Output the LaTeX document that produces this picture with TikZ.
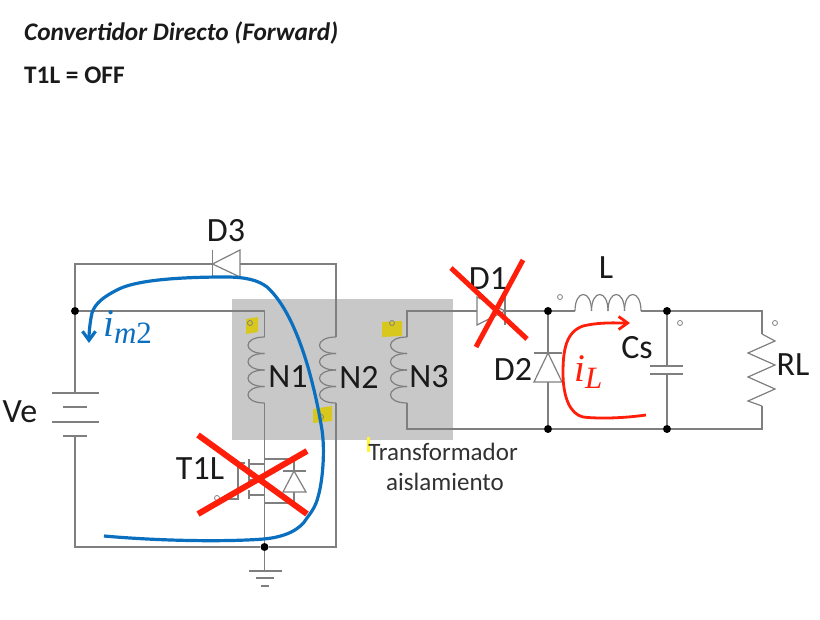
\documentclass[tikz,border=0pt]{standalone}
\usepackage{fontspec}
\setmainfont{Carlito}
\newfontfamily\currentfont{Liberation Serif}
\usepackage{xcolor}
\usetikzlibrary{arrows.meta}
\definecolor{wireink}{HTML}{7F7F7F}
\definecolor{coreshade}{HTML}{C8C8C8}
\definecolor{dotyellow}{HTML}{D8C81E}
\definecolor{labelink}{HTML}{1A1A1A}
\definecolor{crossred}{HTML}{FF1E0A}
\definecolor{loopblue}{HTML}{0B6FC0}
\tikzset{
  wire/.style={wireink, line width=1.2pt},
  junction/.style={circle, fill=black, inner sep=0pt, minimum size=8pt},
  polarity/.style={circle, draw=wireink, line width=0.8pt, inner sep=0pt, minimum size=5pt},
  partlabel/.style={labelink, inner sep=0pt, font=\fontsize{34}{38}\selectfont},
  notelabel/.style={labelink!90, inner sep=0pt, font=\fontsize{25}{29}\selectfont},
  crossout/.style={crossred, line width=6pt},
  yellowmark/.style={fill=dotyellow, draw=none},
  currentlabel/.style={inner sep=0pt, font=\currentfont\itshape\fontsize{39}{42}\selectfont},
}
\newcommand{\currentsub}[1]{\raisebox{-7pt}{\fontsize{31}{34}\selectfont #1}}
\begin{document}
\begin{tikzpicture}[x=1pt, y=-1pt, >={Straight Barb[length=9pt, width=13pt]}]
\useasboundingbox (0,0) rectangle (820,620);

%% ==== Titulo ========================================================
\node[anchor=west, labelink, inner sep=0pt, font=\fontsize{25.3}{29}\selectfont\bfseries\itshape] (title) at (24,33) {Convertidor Directo (Forward)};
\node[anchor=west, labelink, inner sep=0pt, font=\fontsize{25.3}{29}\selectfont\bfseries] (state) at (24,75) {T1L = OFF};

%% ==== Nucleo del transformador ======================================
\fill[coreshade] (232,299) rectangle (453,440);
\fill[yellowmark] (246,319) -- (258,317) -- (258,332) -- (246,334) -- cycle;
\fill[yellowmark] (382,322) -- (402,321) -- (402,336) -- (382,337) -- cycle;
\fill[yellowmark] (313,409) -- (332,406) -- (332,421) -- (313,423) -- cycle;
\fill[yellow!80!white] (367,437) rectangle (370,452);

%% ==== Puntos de union ===============================================
\coordinate (tl) at (75,264);
\coordinate (bl) at (75,547);
\coordinate (tr) at (336,264);
\coordinate (br) at (336,547);
\coordinate (d3a) at (212.5,264);
\coordinate (d3b) at (240,264);
\coordinate (n1t) at (264.5,337);
\coordinate (n1b) at (264.5,403);
\coordinate (n2t) at (336,337);
\coordinate (n2b) at (336,403);
\coordinate (n3t) at (407,337);
\coordinate (n3b) at (407,403);
\coordinate (n3u) at (407,311);
\coordinate (n3d) at (407,429);
\coordinate (n1u) at (264.5,311);
\coordinate (d1a) at (477,311);
\coordinate (d1b) at (505,311);
\coordinate (la) at (575,311);
\coordinate (lb) at (641,311);
\coordinate (rt) at (762,311);
\coordinate (rb) at (762,429);
\coordinate (gnd) at (264.5,571);

\node[junction] (jin) at (75,311) {};
\node[junction] (jgnd) at (264.5,547) {};
\node[junction] (jd2t) at (548,311) {};
\node[junction] (jd2b) at (548,429) {};
\node[junction] (jcst) at (667,311) {};
\node[junction] (jcsb) at (667,429) {};

%% ==== Primario y fuente =============================================
\draw[wire] (jin) -- (tl) -- (d3a);
\draw[wire] (d3b) -- (tr) -- (n2t);
\draw[wire] (jin) -- (n1u) -- (n1t);
\draw[wire] (n2b) -- (br) -- (jgnd) -- (bl) -- (75,436);
\draw[wire] (jin) -- (75,393);
\draw[wire] (52,393) -- (99,393);
\draw[wire] (63,407) -- (87,407);
\draw[wire] (52,422) -- (99,422);
\draw[wire] (63,436) -- (87,436);

%% D3
\draw[wire] (212.5,250) -- (212.5,277);
\draw[wire] (d3a) -- (240,250) -- (240,277) -- cycle;

%% bobinas N1, N2, N3
\foreach \cx in {264.5,336,407} {
  \foreach \cy in {337,353.5,370,386.5} {
    \draw[wire] (\cx,\cy) .. controls (\cx-22,\cy) and (\cx-22,\cy+16.5) .. (\cx,\cy+16.5);
  }
}

%% T1L
\draw[wire] (n1b) -- (jgnd);
\draw[wire] (249,459) -- (249,469);
\draw[wire] (249,475) -- (249,485);
\draw[wire] (249,490) -- (249,499);
\draw[wire] (249,464) -- (264.5,464);
\draw[wire] (249,480) -- (264.5,480);
\draw[wire] (249,495) -- (264.5,495);
\draw[wire] (245,463) -- (238,463) -- (238,499) -- (221,499);
\node[polarity] (gate) at (217,498) {};
\draw[wire] (264.5,459) -- (294,459) -- (294,471);
\draw[wire] (294,492) -- (294,503) -- (264.5,503);
\draw[wire] (283,471) -- (306,471);
\draw[wire] (294,471) -- (306,492) -- (283,492) -- cycle;

%% tierra
\draw[wire] (jgnd) -- (gnd);
\draw[wire] (249,571) -- (282,571);
\draw[wire] (256,578) -- (274,578);
\draw[wire] (261,586) -- (269,586);

%% ==== Secundario ====================================================
\draw[wire] (n3t) -- (n3u) -- (d1a);
\draw[wire] (d1b) -- (jd2t) -- (la);
\draw[wire] (n3b) -- (n3d) -- (jd2b) -- (jcsb) -- (rb) -- (762,406);
\draw[wire] (lb) -- (jcst) -- (rt) -- (762,334);
\draw[wire] (jd2t) -- (548,353);
\draw[wire] (548,382) -- (jd2b);

%% D1 y D2
\draw[wire] (477,297) -- (d1b) -- (477,325) -- cycle;
\draw[wire] (505,297) -- (505,325);
\draw[wire] (534,353) -- (562,353);
\draw[wire] (548,353) -- (562,382) -- (534,382) -- cycle;

%% L
\foreach \lx in {575,591.5,608,624.5} {
  \draw[wire] (\lx,311) .. controls (\lx,289) and (\lx+16.5,289) .. (\lx+16.5,311);
}

%% Cs
\draw[wire] (jcst) -- (667,366);
\draw[wire] (667,374) -- (jcsb);
\draw[wire] (650,366) -- (683,366);
\draw[wire] (650,374) -- (683,374);

%% RL
\draw[wire] (762,334) -- (775,341) -- (748,353) -- (775,365) -- (748,377) -- (775,389) -- (748,401) -- (762,406);

%% ==== Marcas de polaridad ===========================================
\node[polarity] (pn1) at (250,323) {};
\node[polarity] (pn2) at (321,417) {};
\node[polarity] (pn3) at (392,323) {};
\node[polarity] (pl) at (560,297) {};
\node[polarity] (pcs) at (680,323) {};
\node[polarity] (prl) at (775,323) {};

%% ==== Etiquetas =====================================================
\node[partlabel] (d3) at (226,231) {D3};
\node[partlabel] (ve) at (20,412) {Ve};
\node[partlabel] (n1) at (288,377) {N1};
\node[partlabel] (n2) at (359,377) {N2};
\node[partlabel] (n3) at (429,377) {N3};
\node[partlabel] (t1l) at (200,469) {T1L};
\node[partlabel] (d1) at (488,279) {D1};
\node[partlabel] (d2) at (513,369) {D2};
\node[partlabel] (l) at (606,268) {L};
\node[partlabel] (cs) at (637,348) {Cs};
\node[partlabel] (rl) at (793,365) {RL};
\node[notelabel] (tr1) at (443,452) {Transformador};
\node[notelabel] (tr2) at (445,482) {aislamiento};

%% ==== Cruces rojas ==================================================
\draw[crossout] (198,435) -- (307,514);
\draw[crossout] (198,514) -- (307,451);
\draw[crossred, line width=5pt] (451,268) -- (527,339);
\draw[crossred, line width=5pt] (523,260) -- (476,347);

%% ==== Corrientes ====================================================
\draw[loopblue, line width=3.2pt, ->]
  (104,536) .. controls (160,541) and (225,542) .. (264,539)
  .. controls (285,537) and (300,530) .. (307,518)
  .. controls (313,510) and (316,505) .. (318,497)
  .. controls (323,480) and (325,450) .. (322,430)
  .. controls (318,405) and (313,385) .. (308,367)
  .. controls (300,340) and (287,305) .. (267,287)
  .. controls (258,280) and (245,277) .. (226,277)
  .. controls (180,277) and (135,280) .. (117,290)
  .. controls (105,296) and (95,303) .. (92,313)
  .. controls (90,322) and (89,332) .. (89,343);
\node[currentlabel, loopblue, anchor=base west] (im2) at (103,337) {i\currentsub{m\textup{2}}};

\draw[crossred, line width=2.8pt, ->]
  (646,415) .. controls (625,418) and (600,419) .. (583,417)
  .. controls (570,414) and (563,397) .. (563,373)
  .. controls (563,350) and (566,332) .. (583,326)
  .. controls (600,322) and (615,323) .. (630,323);
\node[currentlabel, crossred, anchor=base west] (il) at (574,382) {i\currentsub{L}};

\end{tikzpicture}
\end{document}
